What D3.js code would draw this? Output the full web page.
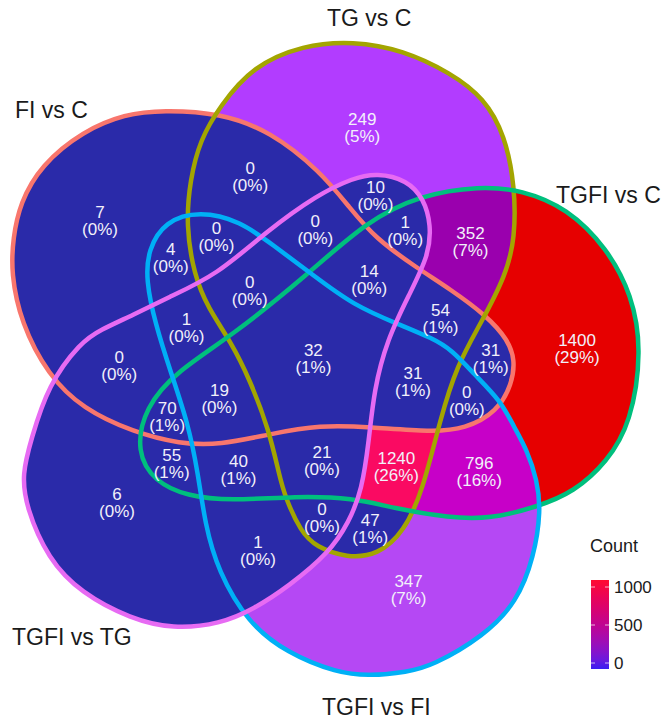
<!DOCTYPE html>
<html>
<head>
<meta charset="utf-8">
<script src="https://cdn.jsdelivr.net/npm/d3@7"></script>
<style>
  body { margin: 0; background: #fff; }
  svg { display: block; }
  text { font-family: "Liberation Sans", Arial, sans-serif; }
</style>
</head>
<body>
<svg id="chart" width="662" height="724"></svg>
<script>
// ---- data ----
const setNames = ["FI vs C", "TG vs C", "TGFI vs C", "TGFI vs FI", "TGFI vs TG"];
const setColors = ["#F8766D", "#A3A500", "#00BF7D", "#00B0F6", "#E76BF3"];

// membership flags over setNames (in order), and gene counts per region
const regionKeys = [
  "10000", "01000", "00100", "00010", "00001",
  "11000", "10100", "10010", "10001", "01100", "01010", "01001", "00110", "00101", "00011",
  "11100", "11010", "11001", "10110", "10101", "10011", "01110", "01101", "01011", "00111",
  "11110", "11101", "11011", "10111", "01111",
  "11111"
];
const regionCounts = [
  7, 249, 1400, 347, 6,
  0, 31, 4, 0, 352, 47, 10, 796, 55, 1,
  54, 0, 0, 0, 70, 1, 1240, 1, 0, 40,
  31, 14, 0, 19, 21,
  32
];

// colour bar ticks
const legendTicks = [0, 500, 1000];

// ---- layout: outline of each set ----
const outlines = [
  // FI vs C
  [[163,110],[220,113],[270,131],[320,171],[350,208],[375,238],[417,268],[450,289],[487,316],[508,340],[515,360],[512,384],[497,412],[465,429],[432,432],[370,427],[320,425],[270,434],[220,445],[180,444],[133,432],[83,409],[48,375],[21,323],[11,273],[13,238],[20,203],[41,165],[83,131],[125,114]],
  // TG vs C
  [[353,41],[403,50],[451,73],[484,98],[505,135],[515,187],[515,238],[506,275],[481,323],[457,365],[440,420],[423,490],[404,532],[378,555],[347,558],[316,547],[301,532],[285,497],[279,474],[269,430],[250,380],[231,342],[208,308],[194,275],[186,225],[190,180],[200,140],[220,106],[253,66],[303,45]],
  // TGFI vs C
  [[136,452],[145,407],[177,371],[233,335],[307,275],[367,221],[420,195],[480,186],[522,190],[567,208],[607,248],[632,295],[642,350],[631,423],[607,462],[574,492],[537,507],[490,519],[450,518],[393,508],[353,498],[297,496],[230,501],[187,496],[155,482]],
  // TGFI vs FI
  [[200,211],[240,221],[273,245],[313,275],[353,305],[400,325],[432,338],[452,350],[474,374],[501,401],[514,427],[527,450],[537,480],[541,510],[534,557],[517,602],[484,636],[432,666],[407,672],[370,676],[337,673],[287,653],[248,623],[218,571],[205,524],[198,473],[188,423],[171,373],[155,323],[146,280],[148,250],[165,221]],
  // TGFI vs TG
  [[353,178],[377,173],[407,180],[424,199],[431,225],[429,255],[409,295],[387,340],[374,390],[369,440],[362,490],[349,522],[329,553],[289,586],[254,609],[220,624],[173,629],[131,619],[81,593],[48,559],[26,507],[22,474],[31,440],[48,385],[81,342],[100,330],[133,315],[167,298],[217,275],[267,231],[317,195]]
];
const setLabelPos = [[15,118],[327,26],[556,203],[322,715],[12,645]];
// small shifts of region labels away from the area centroid
const labelNudge = {
  "10000": [0, -5], "01000": [-13, 10], "00100": [12, 3], "00010": [4, -5], "00001": [-3, -18],
  "00011": [0, 4], "11101": [0, 5], "11011": [0, 6], "11010": [0, -6], "10001": [0, -5],
  "11100": [0, 4], "10010": [0, -4]
};

// ---- drawing ----
const W = 662, H = 724;
const svg = d3.select("#chart");
const defs = svg.append("defs");
const total = d3.sum(regionCounts);

const fillScale = d3.scaleLinear()
  .domain([0, 100, 249, 347, 352, 796, 1240, 1400])
  .range(["#2a2aa9", "#2a2aa9", "#b23cff", "#b548f4", "#9a00ae", "#c700c8", "#fa0a62", "#e60000"])
  .clamp(true);

const line = d3.line().curve(d3.curveBasisClosed);
const shapeD = outlines.map(p => line(p));

shapeD.forEach((d, i) => {
  defs.append("clipPath").attr("id", "clip" + i).append("path").attr("d", d);
});

const regionLayer = svg.append("g");
regionKeys.forEach((key, k) => {
  const inc = [], exc = [];
  key.split("").forEach((c, i) => (c === "1" ? inc : exc).push(i));
  let parent = regionLayer;
  inc.forEach(i => { parent = parent.append("g").attr("clip-path", `url(#clip${i})`); });
  if (exc.length) {
    const m = defs.append("mask").attr("id", "mask" + k)
      .attr("maskUnits", "userSpaceOnUse")
      .attr("x", 0).attr("y", 0).attr("width", W).attr("height", H);
    m.append("rect").attr("width", W).attr("height", H).attr("fill", "white");
    exc.forEach(i => m.append("path").attr("d", shapeD[i]).attr("fill", "black"));
    parent = parent.append("g").attr("mask", `url(#mask${k})`);
  }
  parent.append("rect").attr("width", W).attr("height", H)
    .attr("fill", fillScale(regionCounts[k]));
});

// set outlines
const edges = svg.append("g").selectAll("path").data(shapeD).join("path")
  .attr("d", d => d)
  .attr("fill", "none")
  .attr("stroke", (d, i) => setColors[i])
  .attr("stroke-width", 4.5);

// sampled polygons for region centroids
const polys = edges.nodes().map(node => {
  const len = node.getTotalLength(), n = 400, pts = [];
  for (let j = 0; j < n; j++) {
    const p = node.getPointAtLength(len * j / n);
    pts.push([p.x, p.y]);
  }
  return pts;
});
const acc = {};
regionKeys.forEach(k => acc[k] = [0, 0, 0]);
for (let y = 0; y < H; y += 2) {
  for (let x = 0; x < W; x += 2) {
    let key = "";
    for (let i = 0; i < 5; i++) key += d3.polygonContains(polys[i], [x, y]) ? "1" : "0";
    if (acc[key]) { acc[key][0] += x; acc[key][1] += y; acc[key][2] += 1; }
  }
}

const labels = svg.append("g")
  .attr("fill", "#f2f0fa")
  .attr("font-size", 17)
  .attr("text-anchor", "middle");
regionKeys.forEach((key, k) => {
  const a = acc[key];
  if (!a[2]) return;
  const nd = labelNudge[key] || [0, 0];
  const cx = a[0] / a[2] + nd[0], cy = a[1] / a[2] + nd[1];
  const pct = Math.round(regionCounts[k] / total * 100);
  const t = labels.append("text").attr("x", cx).attr("y", cy - 3);
  t.append("tspan").attr("x", cx).text(regionCounts[k]);
  t.append("tspan").attr("x", cx).attr("dy", 17).text(`(${pct}%)`);
});

// set names
svg.append("g").selectAll("text").data(setNames).join("text")
  .attr("x", (d, i) => setLabelPos[i][0])
  .attr("y", (d, i) => setLabelPos[i][1])
  .attr("font-size", 23)
  .attr("fill", "#1a1a1a")
  .text(d => d);

// colour bar
const ly = d3.scaleLinear().domain([0, 1000]).range([663, 587]);
const barTop = ly(1000) - 7, barBottom = ly(0) + 6;
const grad = defs.append("linearGradient").attr("id", "countGrad")
  .attr("x1", 0).attr("y1", 1).attr("x2", 0).attr("y2", 0);
const legendColor = d3.interpolateLab("#3a1ef2", "#ff0a30");
d3.range(0, 1.0001, 0.1).forEach(t => {
  grad.append("stop").attr("offset", t).attr("stop-color", legendColor(t));
});
const legend = svg.append("g");
legend.append("text").attr("x", 590).attr("y", 552).attr("font-size", 18)
  .attr("fill", "#1a1a1a").text("Count");
legend.append("rect").attr("x", 591).attr("y", barTop).attr("width", 18)
  .attr("height", barBottom - barTop).attr("fill", "url(#countGrad)");
legend.selectAll("line.tl").data(legendTicks).join("line")
  .attr("x1", 591).attr("x2", 595).attr("y1", d => ly(d)).attr("y2", d => ly(d))
  .attr("stroke", "white").attr("stroke-opacity", 0.7);
legend.selectAll("line.tr").data(legendTicks).join("line")
  .attr("x1", 605).attr("x2", 609).attr("y1", d => ly(d)).attr("y2", d => ly(d))
  .attr("stroke", "white").attr("stroke-opacity", 0.7);
legend.selectAll("text.tick").data(legendTicks).join("text")
  .attr("class", "tick")
  .attr("x", 614).attr("y", d => ly(d))
  .attr("dominant-baseline", "central")
  .attr("font-size", 17).attr("fill", "#1a1a1a")
  .text(d => d);
</script>
</body>
</html>
